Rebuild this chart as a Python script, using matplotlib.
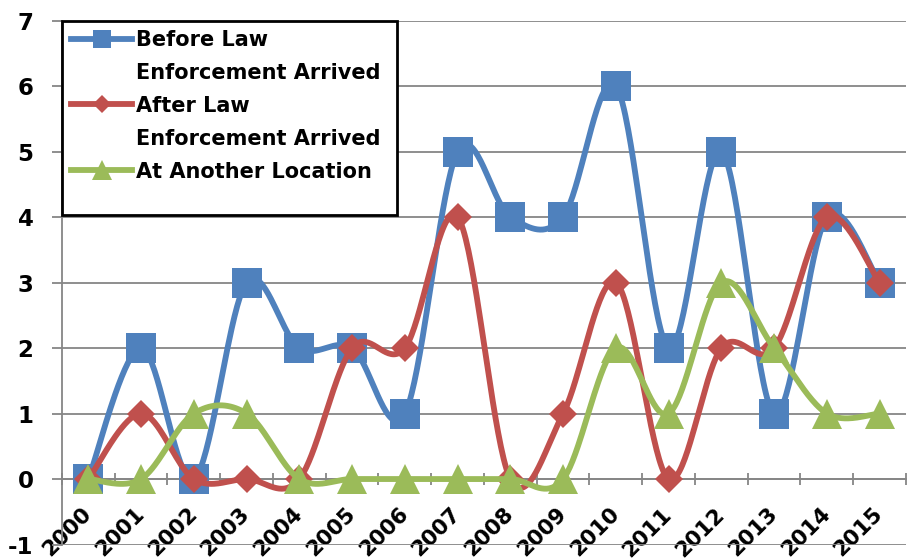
import numpy as np
import matplotlib
matplotlib.use("Agg")
import matplotlib.pyplot as plt
from matplotlib.lines import Line2D
from matplotlib.patches import Rectangle

plt.rcParams["axes.unicode_minus"] = False

years = [str(y) for y in range(2000, 2016)]
before_law = [0, 2, 0, 3, 2, 2, 1, 5, 4, 4, 6, 2, 5, 1, 4, 3]
after_law = [0, 1, 0, 0, 0, 2, 2, 4, 0, 1, 3, 0, 2, 2, 4, 3]
another_loc = [0, 0, 1, 1, 0, 0, 0, 0, 0, 0, 2, 1, 3, 2, 1, 1]

BLUE = "#4F81BD"
RED = "#C0504D"
GREEN = "#9BBB59"
GREY = "#868686"


def smooth(x, y, n=40):
    # Excel-like smoothed line: cubic bezier with catmull-rom control points
    p = np.column_stack([x, y]).astype(float)
    pts = np.vstack([p[0], p, p[-1]])
    t = np.linspace(0, 1, n)[:, None]
    out = []
    for i in range(1, len(pts) - 2):
        p0, p1, p2, p3 = pts[i - 1], pts[i], pts[i + 1], pts[i + 2]
        c1 = p1 + (p2 - p0) / 6
        c2 = p2 - (p3 - p1) / 6
        seg = ((1 - t) ** 3) * p1 + 3 * ((1 - t) ** 2) * t * c1 + 3 * (1 - t) * t ** 2 * c2 + t ** 3 * p2
        out.append(seg)
    out = np.vstack(out)
    return out[:, 0], out[:, 1]


fig = plt.figure(figsize=(9.17, 5.59), dpi=100)
ax = fig.add_axes([0.0676, 0.0259, 0.9204, 0.9374])

x = np.arange(len(years))
series = [
    (before_law, BLUE, "s", 21),
    (after_law, RED, "D", 14),
    (another_loc, GREEN, "^", 22),
]
for vals, col, mk, ms in series:
    sx, sy = smooth(x, vals)
    ax.plot(sx, sy, color=col, lw=4.2, solid_capstyle="round", zorder=3)
    ax.plot(x, vals, ls="none", marker=mk, ms=ms, color=col, mec=col, mew=0, zorder=3)

ax.set_xlim(-0.5, 15.5)
ax.set_ylim(-1, 7)
ax.set_yticks(range(-1, 8))
ax.grid(axis="y", color=GREY, lw=1.3, zorder=0)
ax.set_axisbelow(True)

for s in ["top", "right"]:
    ax.spines[s].set_visible(False)
ax.spines["bottom"].set_position(("data", 0))
ax.spines["bottom"].set_color(GREY)
ax.spines["bottom"].set_linewidth(1.3)
ax.spines["left"].set_color(GREY)
ax.spines["left"].set_linewidth(1.3)

ax.set_xticks(np.arange(-0.5, 16, 1))
ax.set_xticklabels([])
ax.tick_params(axis="x", which="major", direction="inout", length=9, color=GREY, width=1.3)
ax.set_xticks(x, minor=True)
ax.set_xticklabels(years, minor=True)
ax.tick_params(axis="x", which="minor", length=0, pad=23)
for lbl in ax.get_xticklabels(minor=True):
    lbl.set_rotation(45)
    lbl.set_ha("right")
    lbl.set_va("center")
    lbl.set_rotation_mode("anchor")
    lbl.set_fontsize(15.5)
    lbl.set_fontweight("bold")

ax.tick_params(axis="y", direction="out", length=7.5, pad=13, color=GREY, width=1.3)
for lbl in ax.get_yticklabels():
    lbl.set_fontsize(16.5)
    lbl.set_fontweight("bold")

# legend frame
ax.add_patch(Rectangle((0, 0.629), 0.397, 0.371, transform=ax.transAxes,
                       facecolor="white", edgecolor="black", lw=2, zorder=4.5, clip_on=False))

blank = Line2D([], [], color="none")
handles = [
    Line2D([], [], color=BLUE, lw=4.2, marker="s", ms=21, mew=0),
    blank,
    Line2D([], [], color=RED, lw=4.2, marker="D", ms=14, mew=0),
    blank,
    Line2D([], [], color=GREEN, lw=4.2, marker="^", ms=22, mew=0),
]
labels = ["Before Law", "Enforcement Arrived", "After Law", "Enforcement Arrived", "At Another Location"]
leg = ax.legend(handles, labels, loc="upper left", bbox_to_anchor=(0, 1), borderaxespad=0,
                frameon=False, prop={"size": 15, "weight": "bold"}, handlelength=2.9,
                handletextpad=0.2, labelspacing=0.62, borderpad=0.45, markerscale=0.65)
leg.set_zorder(5)

fig.savefig("out.png", dpi=100)
